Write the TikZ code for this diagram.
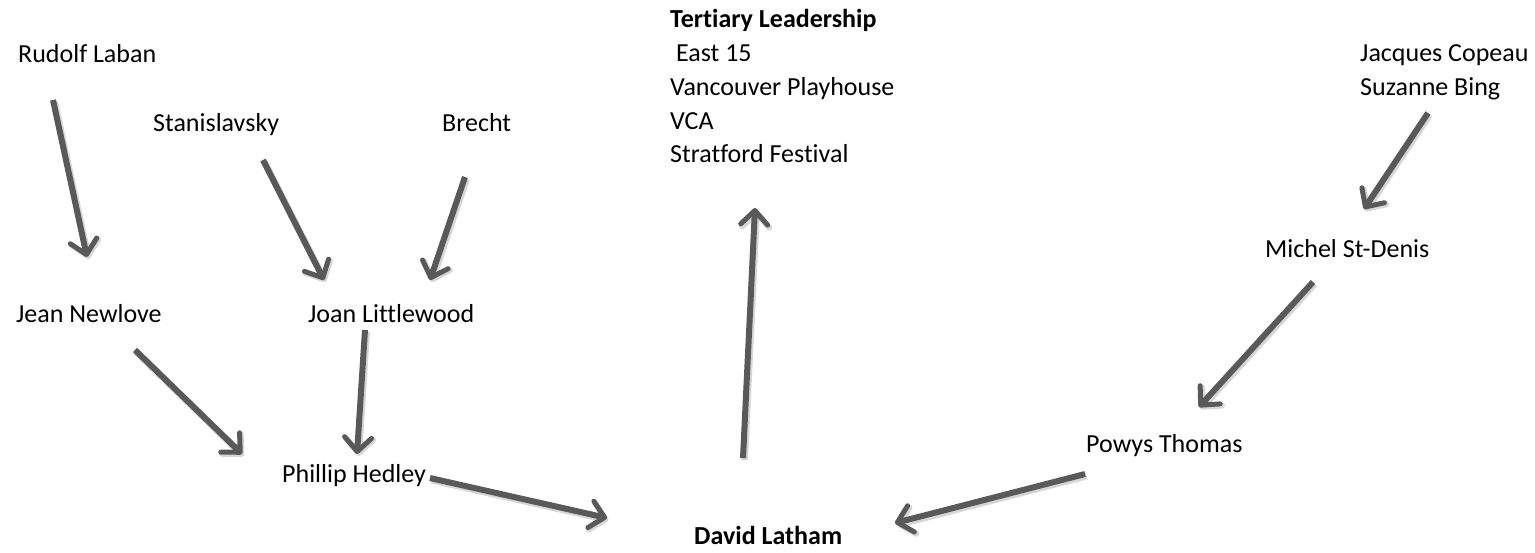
\documentclass[tikz,border=0pt]{standalone}
\usepackage{fontspec}
\setmainfont{Carlito}[Ligatures=NoCommon]
\usetikzlibrary{arrows.meta}
\definecolor{arrowgray}{HTML}{595959}
\tikzset{
  lbl/.style={anchor=base west, inner sep=0pt, font=\fontsize{26}{33.5}\selectfont},
  blbl/.style={lbl, font=\fontsize{26}{33.5}\selectfont\bfseries},
  conn/.style={draw=arrowgray, line width=6pt, line cap=butt,
    -{Straight Barb[length=14pt, width=27pt, line width=5pt, round]}},
  connshadow/.style={draw=black, opacity=0.16, line width=7pt,
    -{Straight Barb[length=14pt, width=27pt, line width=6pt, round]}},
}
\newcommand{\arrowlink}[2]{%
  \draw[connshadow, transform canvas={shift={(1.5pt,-2pt)}}] (#1) -- (#2);
  \draw[conn] (#1) -- (#2);}
\begin{document}
\begin{tikzpicture}[x=1pt, y=-1pt]
\useasboundingbox (0,0) rectangle (1535,552);
% labels
\node[lbl] (laban) at (18,62) {Rudolf Laban};
\node[lbl] (stan) at (153,131) {Stanislavsky};
\node[lbl] (brecht) at (442,131) {Brecht};
\node[lbl] (newlove) at (16,322) {Jean Newlove};
\node[lbl] (littlewood) at (308,322) {Joan Littlewood};
\node[lbl] (hedley) at (282,482) {Phillip Hedley};
\node[blbl] (latham) at (694,544) {David Latham};
\node[blbl] (tert) at (670,27) {Tertiary Leadership};
\node[lbl] (east) at (670,61) {\ East 15};
\node[lbl] (vanc) at (670,95) {Vancouver Playhouse};
\node[lbl] (vca) at (670,129) {VCA};
\node[lbl] (strat) at (670,162.5) {Stratford Festival};
\node[lbl] (copeau) at (1360,61) {Jacques Copeau};
\node[lbl] (bing) at (1360,95) {Suzanne Bing};
\node[lbl] (stdenis) at (1265,257) {Michel St-Denis};
\node[lbl] (powys) at (1086,452) {Powys Thomas};
% connector end points
\coordinate (a1s) at (53,100);   \coordinate (a1e) at (87,257);
\coordinate (a2s) at (263,160);  \coordinate (a2e) at (324,280);
\coordinate (a3s) at (465,177);  \coordinate (a3e) at (430,280);
\coordinate (a4s) at (135,350);  \coordinate (a4e) at (242,454);
\coordinate (a5s) at (365,330);  \coordinate (a5e) at (357,454);
\coordinate (a6s) at (430,478);  \coordinate (a6e) at (607,518);
\coordinate (a7s) at (743,458);  \coordinate (a7e) at (755,208);
\coordinate (a8s) at (1428,113); \coordinate (a8e) at (1364,209);
\coordinate (a9s) at (1313,282); \coordinate (a9e) at (1199,407);
\coordinate (a10s) at (1085,474); \coordinate (a10e) at (895,523);
\arrowlink{a1s}{a1e}
\arrowlink{a2s}{a2e}
\arrowlink{a3s}{a3e}
\arrowlink{a4s}{a4e}
\arrowlink{a5s}{a5e}
\arrowlink{a6s}{a6e}
\arrowlink{a7s}{a7e}
\arrowlink{a8s}{a8e}
\arrowlink{a9s}{a9e}
\arrowlink{a10s}{a10e}
\end{tikzpicture}
\end{document}
